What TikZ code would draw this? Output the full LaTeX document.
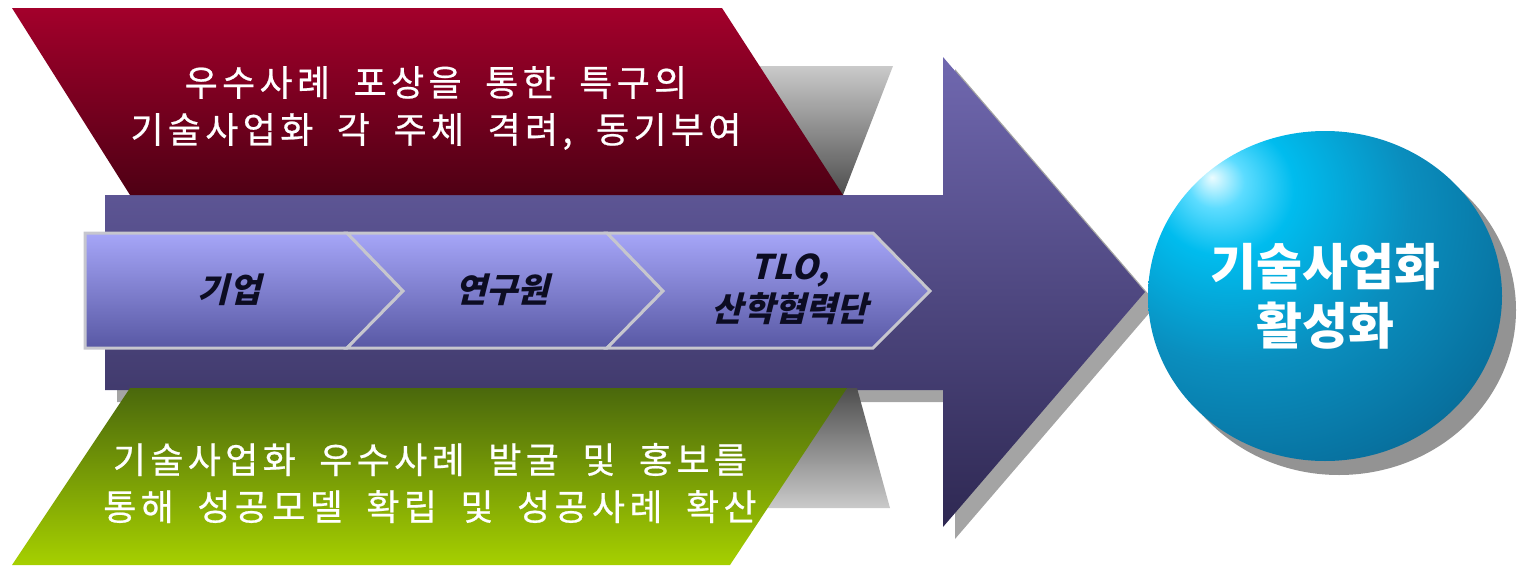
\documentclass[tikz,border=0pt]{standalone}
\usepackage{fontspec}
\usetikzlibrary{shapes.geometric,shadows}
\newfontfamily\krfont{Noto Sans CJK KR}[LetterSpace=12, WordSpace=1.9, FakeBold=0.6]
\newfontfamily\krbold{Noto Sans CJK KR}
\newfontfamily\krslant{Noto Sans CJK KR}[FakeSlant=0.25]
\definecolor{redtop}{HTML}{A3002B}
\definecolor{redbot}{HTML}{4E0014}
\definecolor{purtop}{HTML}{7068B0}
\definecolor{purbot}{HTML}{2E2852}
\definecolor{chevtop}{HTML}{A6A6F8}
\definecolor{chevbot}{HTML}{5858A4}
\definecolor{chevline}{HTML}{C6C6CE}
\definecolor{grntop}{HTML}{4A680C}
\definecolor{grnbot}{HTML}{A6D000}
\definecolor{greylite}{HTML}{CACACA}
\definecolor{greydark}{HTML}{4E4E4E}
\definecolor{shadowgrey}{HTML}{A4A4A4}
\definecolor{stageink}{HTML}{0C0C22}
\definecolor{globehi}{HTML}{ECFCFF}
\definecolor{globecyan}{HTML}{5CDCFF}
\definecolor{globebright}{HTML}{00BCEE}
\definecolor{globemid}{HTML}{0A8EBE}
\definecolor{globeblue}{HTML}{0872A0}
\definecolor{globeteal}{HTML}{055A78}
\definecolor{globedark}{HTML}{034458}
\definecolor{globegreen}{HTML}{2C6450}
\pgfdeclareradialshading{globe}{\pgfpoint{-16bp}{18bp}}{%
  color(0bp)=(globehi); color(4bp)=(globecyan); color(10bp)=(globebright);
  color(24bp)=(globemid); color(38bp)=(globeblue); color(50bp)=(globeteal);
  color(62bp)=(globedark); color(78bp)=(globegreen); color(100bp)=(globegreen)}

\begin{document}
\begin{tikzpicture}[x=0.5pt, y=-0.5pt,
    plate/.style={text=white, align=center, font={\krfont\fontsize{18}{23.5}\selectfont}},
    stage/.style={text=stageink, align=center, font={\krslant\bfseries\fontsize{17}{21}\selectfont}},
    chev/.style={top color=chevtop, bottom color=chevbot, draw=chevline, line width=1.5pt},
    goal/.style={ellipse, shade, shading=globe, inner sep=0pt, minimum width=177pt, minimum height=165pt,
      text=white, align=center, font={\krbold\bfseries\fontsize{25}{29.5}\selectfont},
      drop shadow={shadow xshift=7pt, shadow yshift=-7pt, fill=gray!85, opacity=1}},
    flat shadow/.style={drop shadow={shadow xshift=6pt, shadow yshift=-6pt, fill=shadowgrey, opacity=1}}]
\useasboundingbox (0,0) rectangle (1517,568);
\shade[top color=purtop, bottom color=purbot, flat shadow]
  (105,195) -- (943,195) -- (943,57) -- (1145,292) -- (943,527) -- (943,390) -- (105,390) -- cycle;
\shade[top color=greylite, bottom color=greydark] (700,66) -- (893,66) -- (843,195) -- (760,195) -- cycle;
\shade[top color=redtop, bottom color=redbot] (12,8) -- (722,8) -- (843,195) -- (130,195) -- cycle;
\shade[top color=greydark, bottom color=greylite] (800,388) -- (857,388) -- (890,508) -- (760,508) -- cycle;
\shade[top color=grntop, bottom color=grnbot] (130,388) -- (847,388) -- (730,565) -- (12,565) -- cycle;
\shade[chev] (85,233) -- (347,233) -- (403,291) -- (347,348) -- (85,348) -- cycle;
\shade[chev] (347,233) -- (607,233) -- (663,291) -- (607,348) -- (347,348) -- (403,291) -- cycle;
\shade[chev] (607,233) -- (873,233) -- (930,291) -- (873,348) -- (607,348) -- (663,291) -- cycle;
\node[stage] (firm) at (229,290) {기업};
\node[stage] (inst) at (502,290) {연구원};
\node[stage] (tlo) at (790,289) {TLO,\\산학협력단};
\node[plate] (award) at (436,108) {우수사례 포상을 통한 특구의\\기술사업화 각 주체 격려, 동기부여};
\node[plate] (promo) at (430,483) {기술사업화 우수사례 발굴 및 홍보를\\통해 성공모델 확립 및 성공사례 확산};
\node[goal] (goal) at (1325,296) {기술사업화\\활성화};
\end{tikzpicture}
\end{document}
